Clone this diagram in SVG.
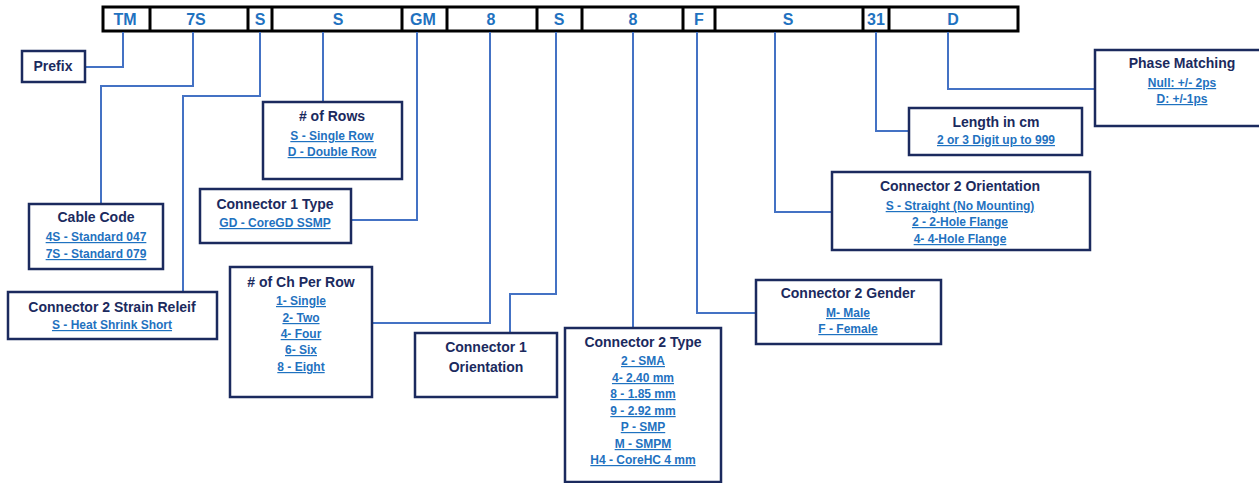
<svg xmlns="http://www.w3.org/2000/svg" width="1259" height="483" viewBox="0 0 1259 483">
<style>
.bar{fill:#fff;stroke:#000;stroke-width:3}
.div{stroke:#000;stroke-width:3}
.code{font-family:"Liberation Sans",Arial,sans-serif;font-weight:bold;font-size:16px;fill:#1F72C0;text-anchor:middle}
.box{fill:#fff;stroke:#1B2A5E;stroke-width:2.5}
.t{font-family:"Liberation Sans",Arial,sans-serif;font-weight:bold;font-size:14px;fill:#1B2A5E;text-anchor:middle}
.i{font-family:"Liberation Sans",Arial,sans-serif;font-weight:bold;font-size:12px;fill:#1F72C0;text-anchor:middle;text-decoration:underline}
.c{fill:none;stroke:#4472C4;stroke-width:2}
</style>
<rect width="1259" height="483" fill="#fff"/>
<g id="codebar">
<rect class="bar" x="103" y="7" width="915" height="24"/>
<path class="div" d="M150 7V31M248 7V31M272 7V31M402 7V31M447 7V31M537 7V31M582 7V31M683 7V31M715 7V31M863 7V31M889 7V31"/>
<text class="code" x="125" y="25">TM</text>
<text class="code" x="196" y="25">7S</text>
<text class="code" x="260" y="25">S</text>
<text class="code" x="338" y="25">S</text>
<text class="code" x="423" y="25">GM</text>
<text class="code" x="491" y="25">8</text>
<text class="code" x="559" y="25">S</text>
<text class="code" x="633" y="25">8</text>
<text class="code" x="699" y="25">F</text>
<text class="code" x="788" y="25">S</text>
<text class="code" x="876" y="25">31</text>
<text class="code" x="953" y="25">D</text>
</g>
<g id="connectors">
<path class="c" d="M123 32V67H85"/>
<path class="c" d="M193 32V86H101V204"/>
<path class="c" d="M260 32V96H183V292"/>
<path class="c" d="M323 32V102"/>
<path class="c" d="M417 32V220H351"/>
<path class="c" d="M490 32V323H372"/>
<path class="c" d="M556 32V294H510V333"/>
<path class="c" d="M633 32V328"/>
<path class="c" d="M697 32V313H756"/>
<path class="c" d="M775 32V212H832"/>
<path class="c" d="M876 32V131H909"/>
<path class="c" d="M948 32V89H1095"/>
</g>
<g id="prefix">
<rect class="box" x="22" y="51" width="63" height="31"/>
<text class="t" x="53" y="71">Prefix</text>
</g>
<g id="rows">
<rect class="box" x="263" y="102" width="139" height="77"/>
<text class="t" x="332" y="121"># of Rows</text>
<text class="i" x="332" y="140">S - Single Row</text>
<text class="i" x="332" y="156">D - Double Row</text>
</g>
<g id="conn1type">
<rect class="box" x="200" y="189" width="151" height="54"/>
<text class="t" x="275" y="209">Connector 1 Type</text>
<text class="i" x="275" y="227">GD - CoreGD SSMP</text>
</g>
<g id="cablecode">
<rect class="box" x="29" y="204" width="134" height="65"/>
<text class="t" x="96" y="222">Cable Code</text>
<text class="i" x="96" y="241">4S - Standard 047</text>
<text class="i" x="96" y="258">7S - Standard 079</text>
</g>
<g id="strain">
<rect class="box" x="8" y="292" width="209" height="47"/>
<text class="t" x="112" y="312">Connector 2 Strain Releif</text>
<text class="i" x="112" y="329">S - Heat Shrink Short</text>
</g>
<g id="chperrow">
<rect class="box" x="230" y="267" width="142" height="130"/>
<text class="t" x="301" y="287"># of Ch Per Row</text>
<text class="i" x="301" y="305">1- Single</text>
<text class="i" x="301" y="322">2- Two</text>
<text class="i" x="301" y="338">4- Four</text>
<text class="i" x="301" y="354">6- Six</text>
<text class="i" x="301" y="371">8 - Eight</text>
</g>
<g id="conn1orient">
<rect class="box" x="415" y="333" width="142" height="64"/>
<text class="t" x="486" y="352">Connector 1</text>
<text class="t" x="486" y="372">Orientation</text>
</g>
<g id="conn2type">
<rect class="box" x="565" y="328" width="156" height="154"/>
<text class="t" x="643" y="347">Connector 2 Type</text>
<text class="i" x="643" y="365">2 - SMA</text>
<text class="i" x="643" y="382">4- 2.40 mm</text>
<text class="i" x="643" y="398">8 - 1.85 mm</text>
<text class="i" x="643" y="415">9 - 2.92 mm</text>
<text class="i" x="643" y="431">P - SMP</text>
<text class="i" x="643" y="448">M - SMPM</text>
<text class="i" x="643" y="464">H4 - CoreHC 4 mm</text>
</g>
<g id="conn2gender">
<rect class="box" x="756" y="280" width="185" height="64"/>
<text class="t" x="848" y="298">Connector 2 Gender</text>
<text class="i" x="848" y="317">M- Male</text>
<text class="i" x="848" y="333">F - Female</text>
</g>
<g id="conn2orient">
<rect class="box" x="832" y="172" width="258" height="78"/>
<text class="t" x="960" y="191">Connector 2 Orientation</text>
<text class="i" x="960" y="210">S - Straight (No Mounting)</text>
<text class="i" x="960" y="226">2 - 2-Hole Flange</text>
<text class="i" x="960" y="243">4- 4-Hole Flange</text>
</g>
<g id="length">
<rect class="box" x="909" y="108" width="173" height="47"/>
<text class="t" x="996" y="127">Length in cm</text>
<text class="i" x="996" y="144">2 or 3 Digit up to 999</text>
</g>
<g id="phase">
<rect class="box" x="1095" y="50" width="170" height="76"/>
<text class="t" x="1182" y="68">Phase Matching</text>
<text class="i" x="1182" y="87">Null: +/- 2ps</text>
<text class="i" x="1182" y="103">D: +/-1ps</text>
</g>
</svg>
